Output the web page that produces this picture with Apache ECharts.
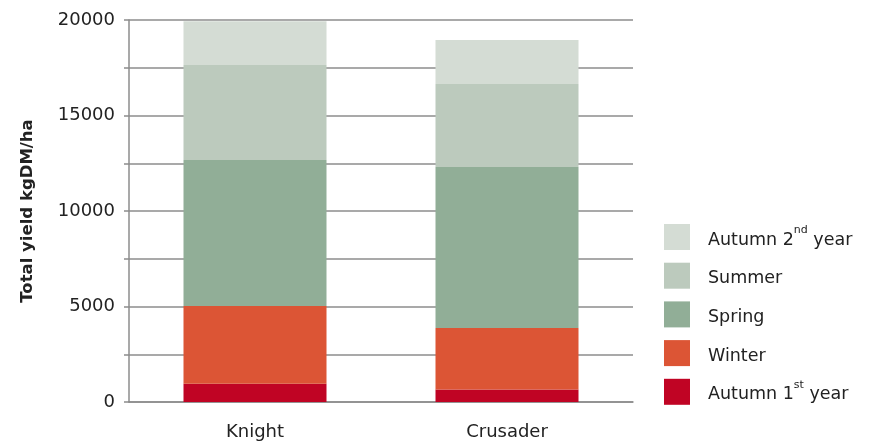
<!DOCTYPE html>
<html>
<head>
<meta charset="utf-8">
<script src="https://cdn.jsdelivr.net/npm/echarts@6/dist/echarts.min.js"></script>
<style>
html,body{margin:0;padding:0;background:#fff;}
#c{width:869px;height:444px;}
</style>
</head>
<body>
<div id="c"></div>
<script>
const categories = ['Knight', 'Crusader'];
const autumn1 = [950, 650];
const winter = [4080, 3230];
const spring = [7640, 8420];
const summer = [4975, 4350];
const autumn2 = [2290, 2300];
const yTicks = [0, 5000, 10000, 15000, 20000];

const FONT = 'DejaVu Sans';
const chart = echarts.init(document.getElementById('c'), null, {renderer: 'canvas'});

function mk(name, data, color) {
  return {name: name, type: 'bar', stack: 'total', data: data, barWidth: 143,
    itemStyle: {color: color}, emphasis: {disabled: true}};
}

const labels = {
  'Autumn 2nd year': '{a|Autumn 2}{s|nd}{a| year}',
  'Summer': '{a|Summer}',
  'Spring': '{a|Spring}',
  'Winter': '{a|Winter}',
  'Autumn 1st year': '{a|Autumn 1}{s|st}{a| year}'
};

chart.setOption({
  animation: false,
  grid: {left: 129, right: 236, top: 20, bottom: 42},
  legend: {
    orient: 'vertical', left: 659, top: 219,
    itemWidth: 26, itemHeight: 26, itemGap: 12.7,
    icon: 'rect',
    data: ['Autumn 2nd year', 'Summer', 'Spring', 'Winter', 'Autumn 1st year'],
    formatter: function (n) { return labels[n]; },
    textStyle: {
      padding: [0, 0, 0, 13],
      rich: {
        a: {fontFamily: FONT, fontSize: 17.5, color: '#222', lineHeight: 24, verticalAlign: 'bottom'},
        s: {fontFamily: FONT, fontSize: 11, color: '#222', lineHeight: 24, verticalAlign: 'top'}
      }
    },
    selectedMode: false
  },
  xAxis: {
    type: 'category', data: categories,
    axisLine: {lineStyle: {color: '#8c8c8c', width: 1.5}},
    axisTick: {show: false},
    axisLabel: {fontFamily: FONT, fontSize: 18, color: '#222', margin: 21}
  },
  yAxis: {
    type: 'value', min: 0, max: 20000, interval: 2500,
    name: 'Total yield kgDM/ha', nameLocation: 'middle', nameGap: 93,
    nameTextStyle: {fontFamily: FONT, fontSize: 16.5, fontWeight: 'bold', color: '#222'},
    axisLine: {show: true, lineStyle: {color: '#8c8c8c', width: 1.5}},
    axisTick: {show: true, length: 5, lineStyle: {color: '#8c8c8c', width: 1.5}},
    splitLine: {lineStyle: {color: '#8c8c8c', width: 1.5}},
    axisLabel: {
      fontFamily: FONT, fontSize: 18, color: '#222', margin: 14,
      formatter: function (v) { return yTicks.indexOf(v) >= 0 ? String(v) : ''; }
    }
  },
  series: [
    mk('Autumn 1st year', autumn1, '#C00424'),
    mk('Winter', winter, '#DC5535'),
    mk('Spring', spring, '#91AE97'),
    mk('Summer', summer, '#BCCABD'),
    mk('Autumn 2nd year', autumn2, '#D4DCD4')
  ]
});
</script>
</body>
</html>
